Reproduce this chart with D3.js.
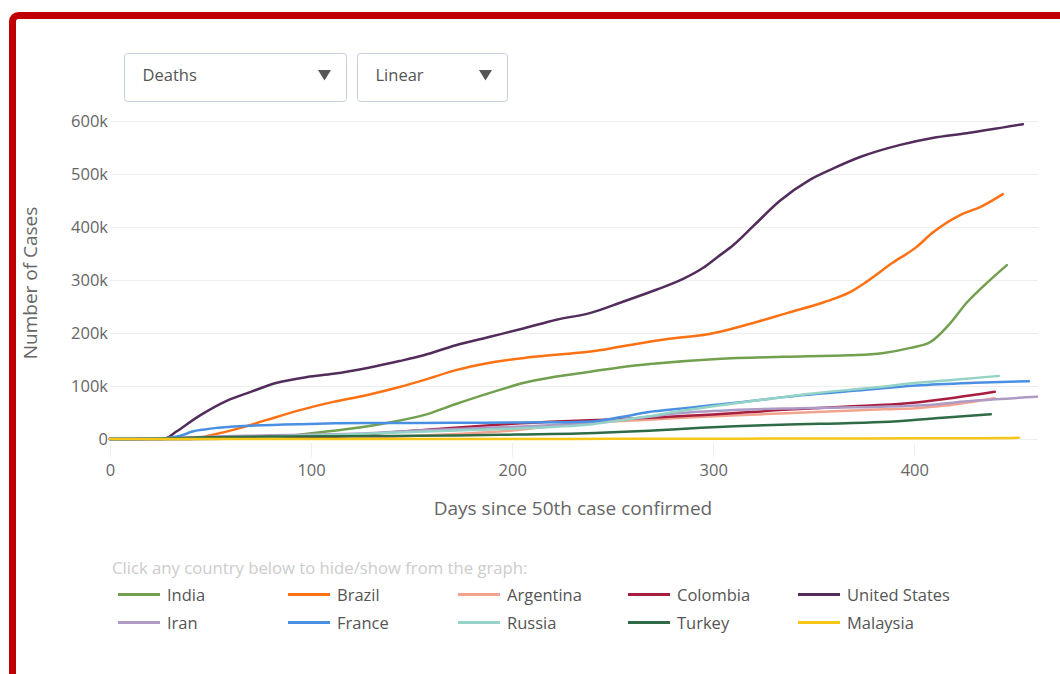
<!DOCTYPE html>
<html>
<head>
<meta charset="utf-8">
<script src="https://cdn.jsdelivr.net/npm/d3@7"></script>
<style>
  body { margin: 0; background: #fff; font-family: "Open Sans", sans-serif; }
  .grid line { stroke: #eeeeee; stroke-width: 1; }
  .series { fill: none; stroke-width: 2.5; stroke-linejoin: round; stroke-linecap: round; }
</style>
</head>
<body>
<div class="htmlcontainer"></div>
<script>
// chart size
var width  = 1060;
var height = 674;

// dropdown labels
var dropdowns = ["Deaths", "Linear"];

// countries, in legend / draw order
var countries = ["India", "Brazil", "Argentina", "Colombia", "United States",
                 "Iran", "France", "Russia", "Turkey", "Malaysia"];
var colors = ["#72a04e", "#fd7115", "#f2a38e", "#a61d3f", "#522d5b",
              "#ad9bc6", "#4a90e2", "#95d3c6", "#2e6b46", "#f6c716"];

// [days since 50th case, deaths]
var india = [[0,0],[30,0],[60,300],[80,2500],[96,9000],[110,15000],[125,22000],[139,31000],[156,45000],
  [172,66000],[189,87000],[206,106000],[222,118000],[239,127000],[255,136000],[270,142000],[302,151000],
  [335,155000],[368,158000],[384,162000],[398,172000],[408,183000],[418,219000],[426,257000],[434,287000],[446,328000]];
var brazil = [[0,0],[40,0],[50,7000],[65,21000],[78,36000],[95,55000],[111,70000],[128,83000],[144,98000],
  [156,111000],[172,130000],[189,144000],[206,153000],[222,159000],[239,165000],[255,175000],[278,189000],
  [298,198000],[318,217000],[337,238000],[355,258000],[368,277000],[376,296000],[389,332000],[401,362000],
  [409,389000],[423,423000],[433,438000],[444,462000]];
var argentina = [[0,0],[60,300],[90,700],[120,2000],[150,5500],[175,10000],[197,15000],[215,22000],[235,30000],
  [255,34000],[268,36500],[295,42000],[326,47000],[354,51500],[385,56000],[401,58000],[415,63000],[440,77000]];
var colombia = [[0,0],[60,500],[90,1500],[110,4000],[130,10000],[156,17000],[189,26000],[222,33000],[250,37000],
  [268,40000],[278,42000],[300,46000],[335,55000],[365,61000],[398,68000],[420,78000],[440,89000]];
var unitedStates = [[0,0],[26,0],[28,1500],[33,14000],[45,45000],[58,72000],[70,89000],[83,106000],[98,117000],[111,123000],
  [128,134000],[144,147000],[156,158000],[172,177000],[189,193000],[206,209000],[222,225000],[239,238000],
  [255,259000],[272,282000],[285,302000],[295,323000],[302,343000],[310,366000],[320,402000],[333,449000],
  [348,489000],[360,511000],[373,532000],[393,555000],[409,568000],[426,577000],[454,594000]];
var iran = [[0,0],[20,700],[36,3000],[67,6000],[98,8000],[128,11000],[159,17000],[190,21500],[220,26500],
  [251,35000],[268,42000],[281,48000],[312,55000],[343,58000],[371,60000],[402,63000],[432,73000],[461,79500]];
var france = [[0,0],[20,300],[28,1500],[35,6000],[41,14000],[47,18000],[53,21000],[60,23000],[70,25000],
  [95,28000],[128,30000],[170,30500],[200,31000],[222,31500],[239,33000],[255,42000],[268,51000],[278,55000],
  [300,64000],[320,72000],[335,79000],[370,91000],[401,101000],[430,106000],[457,109000]];
var russia = [[0,0],[30,50],[50,1000],[70,3000],[90,5500],[110,7500],[139,12000],[180,17000],[222,23000],
  [240,28000],[255,36000],[268,43000],[279,50000],[300,62000],[320,72000],[352,87000],[380,97000],
  [401,106000],[420,112000],[442,119000]];
var turkey = [[0,0],[19,300],[49,3200],[80,4600],[110,5200],[141,5800],[172,6400],[202,8400],[233,10400],
  [268,15500],[294,21000],[325,26000],[353,28600],[384,31900],[414,40300],[438,46500]];
var malaysia = [[0,0],[30,60],[60,100],[120,120],[200,130],[250,250],[300,450],[330,800],[360,1100],
  [400,1300],[430,1600],[452,2200]];

var series = [india, brazil, argentina, colombia, unitedStates, iran, france, russia, turkey, malaysia];

// axis ticks
var xTicks = [0, 100, 200, 300, 400];
var yTicks = [0, 100000, 200000, 300000, 400000, 500000, 600000];

//SVG container
var svg = d3.select(".htmlcontainer").append("svg")
  .attr("width", width)
  .attr("height", height);

// red frame round the widget
svg.append("rect")
  .attr("x", 12.5).attr("y", 15.5)
  .attr("width", 1100).attr("height", 700)
  .attr("rx", 6)
  .attr("fill", "none")
  .attr("stroke", "#c00000")
  .attr("stroke-width", 7);

// dropdowns
var ddX = [124.5, 357.5];
var ddW = [222, 150];
dropdowns.forEach(function(label, i) {
  var g = svg.append("g").attr("transform", "translate(" + ddX[i] + ",53.5)");
  g.append("rect").attr("width", ddW[i]).attr("height", 48).attr("rx", 3)
    .attr("fill", "#fff").attr("stroke", "#c6cfdf");
  g.append("text").attr("x", 18).attr("y", 27.5)
    .attr("font-size", "16.5px").attr("fill", "#555").text(label);
  var ax = ddW[i] - 22;
  g.append("path").attr("d", "M" + (ax - 6.5) + ",16.5L" + (ax + 6.5) + ",16.5L" + ax + ",27z")
    .attr("fill", "#555");
});

// scales
var x = d3.scaleLinear().domain([0, 461]).range([110, 1037]);
var y = d3.scaleLinear().domain([0, 600000]).range([439, 121]);

// gridlines
svg.append("g").attr("class", "grid")
  .selectAll("line").data(yTicks).enter().append("line")
  .attr("x1", 110).attr("x2", 1038)
  .attr("y1", function(d) { return Math.round(y(d)) + 0.5; })
  .attr("y2", function(d) { return Math.round(y(d)) + 0.5; });

// x tick marks under the plot
svg.append("g").attr("class", "grid")
  .selectAll("line").data(xTicks).enter().append("line")
  .attr("x1", function(d) { return Math.round(x(d)) + 0.5; })
  .attr("x2", function(d) { return Math.round(x(d)) + 0.5; })
  .attr("y1", 443).attr("y2", 457);

// axes, labels only
var fmt = function(d) { return d === 0 ? "0" : d3.format("~s")(d); };
var yAxis = svg.append("g")
  .attr("transform", "translate(108,0)")
  .call(d3.axisLeft(y).tickValues(yTicks).tickSize(0).tickPadding(0).tickFormat(fmt));
var xAxis = svg.append("g")
  .attr("transform", "translate(0,464)")
  .call(d3.axisBottom(x).tickValues(xTicks).tickSize(0).tickPadding(0));
[xAxis, yAxis].forEach(function(a) {
  a.select(".domain").remove();
  a.selectAll("text").attr("font-family", "Open Sans").attr("font-size", "16.5px").attr("fill", "#666");
});

// axis titles
svg.append("text").attr("x", 573).attr("y", 515)
  .attr("text-anchor", "middle").attr("font-size", "19px").attr("fill", "#666")
  .text("Days since 50th case confirmed");
svg.append("text").attr("transform", "translate(37,283) rotate(-90)")
  .attr("text-anchor", "middle").attr("font-size", "19px").attr("fill", "#666")
  .text("Number of Cases");

// lines
var line = d3.line()
  .x(function(d) { return x(d[0]); })
  .y(function(d) { return y(d[1]); })
  .curve(d3.curveMonotoneX);

svg.append("g").selectAll("path").data(series).enter().append("path")
  .attr("class", "series")
  .attr("stroke", function(d, i) { return colors[i]; })
  .attr("d", line);

// legend
svg.append("text").attr("x", 112).attr("y", 574)
  .attr("font-size", "16.7px").attr("fill", "#cccccc")
  .text("Click any country below to hide/show from the graph:");

var legend = svg.append("g").selectAll("g").data(countries).enter().append("g")
  .attr("transform", function(d, i) {
    return "translate(" + (118 + (i % 5) * 170) + "," + (594 + Math.floor(i / 5) * 28) + ")";
  });
legend.append("line").attr("x1", 0).attr("x2", 42).attr("y1", 0.5).attr("y2", 0.5)
  .attr("stroke", function(d, i) { return colors[i]; }).attr("stroke-width", 3);
legend.append("text").attr("x", 49).attr("y", 6.5)
  .attr("font-size", "16.5px").attr("fill", "#555").text(function(d) { return d; });
</script>
</body>
</html>
